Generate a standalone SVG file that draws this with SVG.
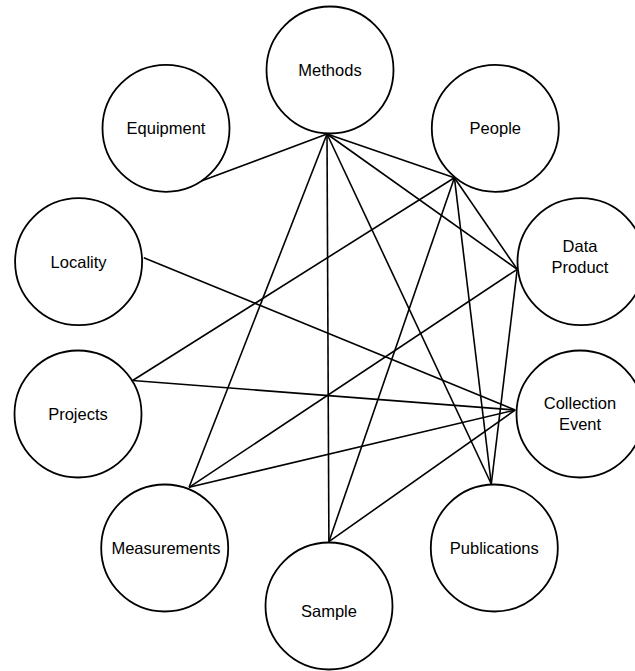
<svg xmlns="http://www.w3.org/2000/svg" width="635" height="671" viewBox="0 0 635 671">
<style>
.n{fill:#fff;stroke:#000;stroke-width:1.8}
.t{font-family:"Liberation Sans",Arial,sans-serif;font-size:16.5px;fill:#000;text-anchor:middle}
.e line{stroke:#000;stroke-width:1.6}
</style>
<rect width="635" height="671" fill="#fff"/>
<g id="connectors" class="e">
<line x1="327" y1="134" x2="201.3" y2="181"/>
<line x1="327" y1="134" x2="454.4" y2="177.7"/>
<line x1="327" y1="134" x2="517.2" y2="269.3"/>
<line x1="327" y1="134" x2="189.1" y2="487.3"/>
<line x1="327" y1="134" x2="328.9" y2="541.7"/>
<line x1="327" y1="134" x2="491.3" y2="484"/>
<line x1="454.4" y1="177.7" x2="132.6" y2="380.5"/>
<line x1="454.4" y1="177.7" x2="328.9" y2="541.7"/>
<line x1="454.4" y1="177.7" x2="491.3" y2="484"/>
<line x1="454.4" y1="177.7" x2="517.2" y2="269.3"/>
<line x1="517.2" y1="269.3" x2="189.1" y2="487.3"/>
<line x1="517.2" y1="269.3" x2="491.3" y2="484"/>
<line x1="143.8" y1="257.7" x2="515.2" y2="410"/>
<line x1="132.6" y1="380.5" x2="515.2" y2="410"/>
<line x1="189.1" y1="487.3" x2="515.2" y2="410"/>
<line x1="328.9" y1="541.7" x2="515.2" y2="410"/>
</g>
<g id="methods"><circle class="n" cx="330" cy="70" r="63.5"/><text class="t" x="330" y="76">Methods</text></g>
<g id="equipment"><circle class="n" cx="166" cy="128.3" r="63.5"/><text class="t" x="166" y="134">Equipment</text></g>
<g id="people"><circle class="n" cx="495.3" cy="128.3" r="63.5"/><text class="t" x="495.3" y="134">People</text></g>
<g id="locality"><circle class="n" cx="78.6" cy="261.7" r="63.5"/><text class="t" x="78.6" y="267.5">Locality</text></g>
<g id="data-product"><circle class="n" cx="581" cy="261.7" r="63.5"/><text class="t" x="580" y="252">Data</text><text class="t" x="580" y="273">Product</text></g>
<g id="projects"><circle class="n" cx="78" cy="414" r="63.5"/><text class="t" x="78" y="420">Projects</text></g>
<g id="collection-event"><circle class="n" cx="580" cy="414" r="63.5"/><text class="t" x="580" y="409">Collection</text><text class="t" x="580" y="430">Event</text></g>
<g id="measurements"><circle class="n" cx="164.7" cy="548" r="63.5"/><text class="t" x="166" y="554">Measurements</text></g>
<g id="publications"><circle class="n" cx="494.3" cy="548" r="63.5"/><text class="t" x="494.3" y="554">Publications</text></g>
<g id="sample"><circle class="n" cx="329" cy="606" r="63.5"/><text class="t" x="329" y="617">Sample</text></g>
</svg>
